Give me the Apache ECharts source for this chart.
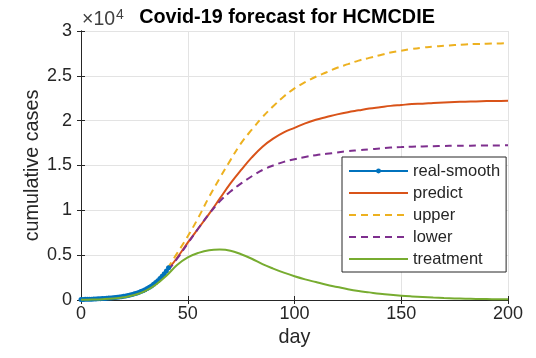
<!DOCTYPE html>
<html>
<head>
<meta charset="utf-8">
<script src="https://cdn.jsdelivr.net/npm/echarts@6/dist/echarts.min.js"></script>
<style>
  html, body { margin: 0; padding: 0; background: #fff; }
  #chart { width: 536px; height: 358px; }
</style>
</head>
<body>
<div id="chart"></div>
<script>
// Days at which the model curves are sampled
const modelDays = [0, 5, 10, 15, 20, 25, 30, 35, 40, 45, 50, 55, 60, 65, 70, 75, 80, 85, 90, 95, 100,
  105, 110, 115, 120, 125, 130, 135, 140, 145, 150, 155, 160, 165, 170, 175, 180, 185, 190, 195, 200];

// Observed (smoothed) cumulative cases, one value per day
const realDays = [0, 1, 2, 3, 4, 5, 6, 7, 8, 9, 10, 11, 12, 13, 14, 15, 16, 17, 18, 19, 20,
  21, 22, 23, 24, 25, 26, 27, 28, 29, 30, 31, 32, 33, 34, 35, 36, 37, 38, 39, 40, 41];
const realSmooth = [60, 66, 73, 80, 88, 97, 107, 118, 130, 143, 158, 174, 191, 210, 231, 255, 281, 309, 340, 374, 412,
  455, 505, 560, 620, 688, 763, 846, 938, 1040, 1153, 1280, 1420, 1575, 1748, 1940, 2150, 2385, 2645, 2930, 3245, 3590];

// Forecast curves (cumulative cases)
const predict = [40, 80, 150, 270, 450, 750, 1200, 2000, 3200, 4700, 6400, 8000, 9600, 11300, 13000, 14500, 15900, 17100, 18000, 18700, 19200,
  19700, 20100, 20400, 20700, 20950, 21150, 21350, 21500, 21650, 21750, 21850, 21900, 21970, 22030, 22080, 22120, 22150, 22180, 22200, 22220];
const upper = [40, 80, 150, 270, 460, 770, 1250, 2100, 3400, 5200, 7100, 9200, 11500, 13600, 15600, 17500, 19000, 20400, 21600, 22700, 23600,
  24300, 24900, 25400, 25900, 26300, 26700, 27000, 27300, 27600, 27800, 28000, 28150, 28250, 28350, 28430, 28500, 28550, 28580, 28610, 28630];
const lower = [40, 80, 150, 270, 440, 730, 1170, 1900, 3100, 4600, 6300, 8000, 9600, 11000, 12100, 13000, 13800, 14500, 15000, 15400, 15700,
  15950, 16150, 16300, 16450, 16600, 16700, 16800, 16900, 17000, 17050, 17100, 17130, 17160, 17180, 17200, 17210, 17220, 17230, 17240, 17250];
const treatment = [20, 50, 90, 160, 300, 550, 1000, 1700, 2700, 3900, 4750, 5250, 5550, 5620, 5500, 5100, 4600, 4000, 3500, 3050, 2650,
  2300, 2000, 1700, 1450, 1200, 1000, 850, 700, 580, 480, 400, 330, 270, 220, 180, 150, 120, 100, 80, 70];

// Axis ticks
const xTicks = [0, 50, 100, 150, 200];
const yTickLabels = ['0', '0.5', '1', '1.5', '2', '2.5', '3'];

const FONT = '"Liberation Sans", Arial, Helvetica, sans-serif';
const AXIS = '#262626';
const COLORS = { real: '#0072BD', predict: '#D95319', upper: '#EDB120', lower: '#7E2F8E', treatment: '#77AC30' };

const pairs = (xs, ys) => xs.map((x, i) => [x, ys[i]]);

const chart = echarts.init(document.getElementById('chart'), null, { renderer: 'canvas' });

const grid = { left: 81, right: 28, top: 31, bottom: 58, containLabel: false };

const baseX = {
  type: 'value', min: xTicks[0], max: xTicks[xTicks.length - 1], interval: xTicks[1] - xTicks[0],
  axisLine: { show: true, lineStyle: { color: AXIS, width: 1 } },
  axisTick: { show: true, inside: true, length: 4, lineStyle: { color: AXIS } }
};
const baseY = {
  type: 'value', min: 0, max: (yTickLabels.length - 1) * 5000, interval: 5000,
  axisLine: { show: true, lineStyle: { color: AXIS, width: 1 } },
  axisTick: { show: true, inside: true, length: 4, lineStyle: { color: AXIS } }
};

function lineSeries(name, xs, ys, color, dashed, z) {
  return {
    name, type: 'line', data: pairs(xs, ys),
    smooth: 0.4,
    symbol: 'none',
    lineStyle: { color, width: 2, type: dashed ? [7, 5] : 'solid' },
    itemStyle: { color },
    z
  };
}

// Model curves show only their line in the legend
const plainItem = name => ({ name, itemStyle: { opacity: 0 } });

chart.setOption({
  animation: false,
  backgroundColor: '#fff',
  textStyle: { fontFamily: FONT },
  grid,
  xAxis: [
    Object.assign({}, baseX, {
      position: 'bottom',
      name: 'day', nameLocation: 'middle', nameGap: 28, nameMoveOverlap: false,
      nameTextStyle: { color: AXIS, fontSize: 19.8, fontFamily: FONT },
      axisLabel: { color: AXIS, fontSize: 18, margin: 5, fontFamily: FONT },
      splitLine: { show: true, lineStyle: { color: '#e3e3e3', width: 1 } }
    }),
    Object.assign({}, baseX, {
      position: 'top',
      axisLabel: { show: false },
      splitLine: { show: false }
    })
  ],
  yAxis: [
    Object.assign({}, baseY, {
      position: 'left',
      name: 'cumulative cases', nameLocation: 'middle', nameGap: 38, nameRotate: 90, nameMoveOverlap: false,
      nameTextStyle: { color: AXIS, fontSize: 19.8, fontFamily: FONT },
      axisLabel: {
        color: AXIS, fontSize: 18, margin: 9, fontFamily: FONT,
        formatter: v => yTickLabels[Math.round(v / 5000)]
      },
      splitLine: { show: true, lineStyle: { color: '#e3e3e3', width: 1 } }
    }),
    Object.assign({}, baseY, {
      position: 'right',
      axisLabel: { show: false },
      splitLine: { show: false }
    })
  ],
  legend: {
    orient: 'vertical',
    left: 342, top: 157,
    padding: [5, 6, 4, 6],
    itemWidth: 59, itemHeight: 6, itemGap: 4,
    backgroundColor: '#fff',
    borderColor: AXIS, borderWidth: 1, borderRadius: 0,
    textStyle: { color: AXIS, fontSize: 16.5, lineHeight: 18, fontFamily: FONT },
    data: ['real-smooth', plainItem('predict'), plainItem('upper'), plainItem('lower'), plainItem('treatment')]
  },
  graphic: [
    {
      type: 'text', x: 287, y: 18, z: 10,
      style: {
        text: 'Covid-19 forecast for HCMCDIE',
        fill: '#000', font: 'bold 19.8px ' + FONT,
        align: 'center', verticalAlign: 'middle'
      }
    },
    {
      type: 'text', x: 82, y: 20, z: 10,
      style: {
        text: '{a|×10}{b|4}',
        verticalAlign: 'middle', align: 'left',
        rich: {
          a: { fontSize: 19.5, fill: '#404040', fontFamily: FONT },
          b: { fontSize: 14, fill: '#404040', fontFamily: FONT, verticalAlign: 'top', padding: [0, 0, 9, 1] }
        }
      }
    }
  ],
  series: [
    {
      name: 'real-smooth', type: 'line', data: pairs(realDays, realSmooth),
      symbol: 'circle', symbolSize: 5, showSymbol: true,
      lineStyle: { color: COLORS.real, width: 2 },
      itemStyle: { color: COLORS.real },
      z: 4
    },
    lineSeries('predict', modelDays, predict, COLORS.predict, false, 3),
    lineSeries('upper', modelDays, upper, COLORS.upper, true, 3),
    lineSeries('lower', modelDays, lower, COLORS.lower, true, 3),
    lineSeries('treatment', modelDays, treatment, COLORS.treatment, false, 5)
  ]
});
</script>
</body>
</html>
